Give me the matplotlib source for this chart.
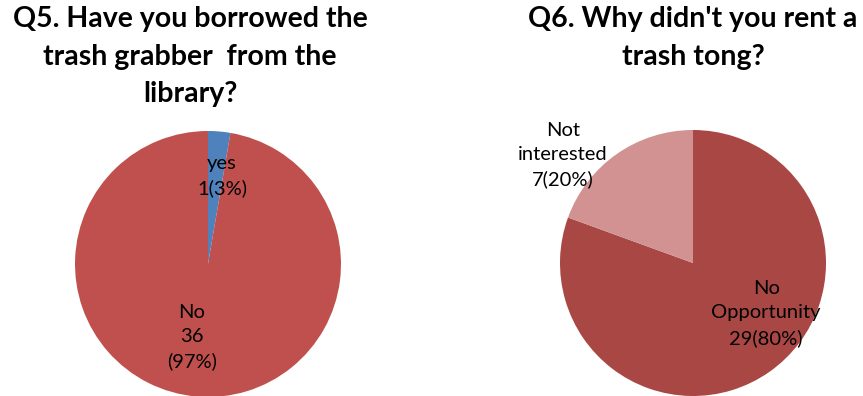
import matplotlib.pyplot as plt

# Q5 data
q5_labels = ['yes', 'No']
q5_counts = [1, 36]
q5_text = ['yes\n1(3%)', 'No\n36\n(97%)']
q5_colors = ['#4F81BD', '#C0504D']

# Q6 data
q6_labels = ['No Opportunity', 'Not interested']
q6_counts = [29, 7]
q6_text = ['No\nOpportunity\n29(80%)', 'Not\ninterested\n7(20%)']
q6_colors = ['#A94745', '#D19291']

W, H = 863, 396
fig = plt.figure(figsize=(W / 100, H / 100), dpi=100)
plt.rcParams['font.family'] = ['Lato', 'DejaVu Sans']


def pie_axes(cx, cy, r):
    # cx, cy in pixels from top-left
    return fig.add_axes([(cx - r) / W, (H - cy - r) / H, 2 * r / W, 2 * r / H])


lab = dict(ha='center', va='center', fontsize=14.5, linespacing=1.5)

ax1 = pie_axes(208, 264, 133)
ax1.pie(q5_counts, colors=q5_colors, startangle=90, counterclock=False,
        radius=1, wedgeprops=dict(linewidth=0))
ax1.text(0.105, 0.66, q5_text[0], **lab)
ax1.text(-0.12, -0.55, q5_text[1], **lab)
ax1.set_xlim(-1, 1)
ax1.set_ylim(-1, 1)
ax1.axis('off')

ax2 = pie_axes(693, 263, 133)
ax2.pie(q6_counts, colors=q6_colors, startangle=90, counterclock=False,
        radius=1, wedgeprops=dict(linewidth=0))
ax2.text(0.55, -0.38, q6_text[0], **lab)
ax2.text(-0.98, 0.81, q6_text[1], **lab)
ax2.set_xlim(-1, 1)
ax2.set_ylim(-1, 1)
ax2.axis('off')

fig.text(190 / W, 1 - 6 / H, 'Q5. Have you borrowed the\ntrash grabber  from the\nlibrary?',
         ha='center', va='top', fontsize=20.5, fontweight='bold', linespacing=1.55)
fig.text(693 / W, 1 - 6 / H, "Q6. Why didn't you rent a\ntrash tong?",
         ha='center', va='top', fontsize=20.5, fontweight='bold', linespacing=1.55)

fig.savefig('out.png', dpi=100)
